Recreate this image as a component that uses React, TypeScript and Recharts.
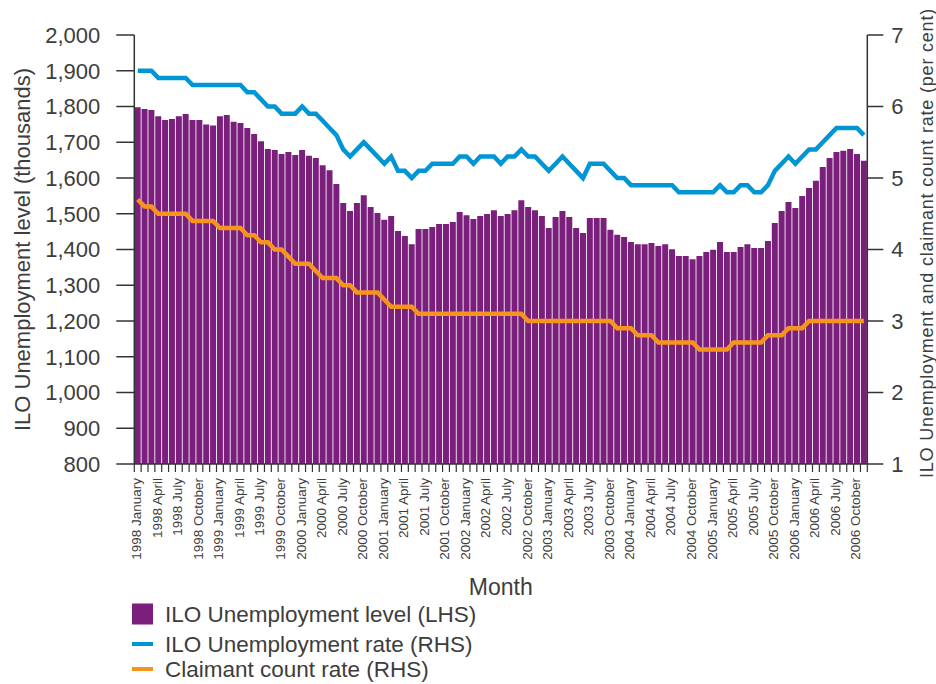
import React from "react";
import { ComposedChart, Bar, Line, XAxis, YAxis } from "recharts";

// ILO unemployment level (thousands), monthly 1998 January - 2006 November
const years = [1998, 1999, 2000, 2001, 2002, 2003, 2004, 2005, 2006];
const monthNames = [
  "January", "February", "March", "April", "May", "June",
  "July", "August", "September", "October", "November", "December",
];

const unemploymentLevel = [
  1798, 1793, 1790, 1773, 1762, 1765, 1773, 1779, 1762, 1762, 1750, 1747,
  1773, 1776, 1757, 1754, 1740, 1723, 1703, 1681, 1678, 1667, 1673, 1664,
  1678, 1662, 1656, 1636, 1622, 1583, 1530, 1508, 1530, 1552, 1519, 1502,
  1483, 1494, 1452, 1438, 1415, 1457, 1457, 1463, 1471, 1471, 1477, 1505,
  1496, 1485, 1494, 1499, 1510, 1494, 1499, 1510, 1538, 1519, 1510, 1494,
  1460, 1491, 1508, 1491, 1460, 1446, 1488, 1488, 1488, 1455, 1441, 1435,
  1421, 1415, 1415, 1418, 1410, 1415, 1401, 1382, 1382, 1373, 1382, 1393,
  1399, 1421, 1393, 1393, 1407, 1415, 1404, 1404, 1424, 1474, 1508, 1533,
  1516, 1550, 1572, 1592, 1631, 1656, 1673, 1676, 1681, 1667, 1648,
];

const iloRate = [
  6.5, 6.5, 6.5, 6.4, 6.4, 6.4, 6.4, 6.4, 6.3, 6.3, 6.3, 6.3,
  6.3, 6.3, 6.3, 6.3, 6.2, 6.2, 6.1, 6.0, 6.0, 5.9, 5.9, 5.9,
  6.0, 5.9, 5.9, 5.8, 5.7, 5.6, 5.4, 5.3, 5.4, 5.5, 5.4, 5.3,
  5.2, 5.3, 5.1, 5.1, 5.0, 5.1, 5.1, 5.2, 5.2, 5.2, 5.2, 5.3,
  5.3, 5.2, 5.3, 5.3, 5.3, 5.2, 5.3, 5.3, 5.4, 5.3, 5.3, 5.2,
  5.1, 5.2, 5.3, 5.2, 5.1, 5.0, 5.2, 5.2, 5.2, 5.1, 5.0, 5.0,
  4.9, 4.9, 4.9, 4.9, 4.9, 4.9, 4.9, 4.8, 4.8, 4.8, 4.8, 4.8,
  4.8, 4.9, 4.8, 4.8, 4.9, 4.9, 4.8, 4.8, 4.9, 5.1, 5.2, 5.3,
  5.2, 5.3, 5.4, 5.4, 5.5, 5.6, 5.7, 5.7, 5.7, 5.7, 5.6,
];

const claimantRate = [
  4.7, 4.6, 4.6, 4.5, 4.5, 4.5, 4.5, 4.5, 4.4, 4.4, 4.4, 4.4,
  4.3, 4.3, 4.3, 4.3, 4.2, 4.2, 4.1, 4.1, 4.0, 4.0, 3.9, 3.8,
  3.8, 3.8, 3.7, 3.6, 3.6, 3.6, 3.5, 3.5, 3.4, 3.4, 3.4, 3.4,
  3.3, 3.2, 3.2, 3.2, 3.2, 3.1, 3.1, 3.1, 3.1, 3.1, 3.1, 3.1,
  3.1, 3.1, 3.1, 3.1, 3.1, 3.1, 3.1, 3.1, 3.1, 3.0, 3.0, 3.0,
  3.0, 3.0, 3.0, 3.0, 3.0, 3.0, 3.0, 3.0, 3.0, 3.0, 2.9, 2.9,
  2.9, 2.8, 2.8, 2.8, 2.7, 2.7, 2.7, 2.7, 2.7, 2.7, 2.6, 2.6,
  2.6, 2.6, 2.6, 2.7, 2.7, 2.7, 2.7, 2.7, 2.8, 2.8, 2.8, 2.9,
  2.9, 2.9, 3.0, 3.0, 3.0, 3.0, 3.0, 3.0, 3.0, 3.0, 3.0,
];

const levelTicks = [800, 900, 1000, 1100, 1200, 1300, 1400, 1500, 1600, 1700, 1800, 1900, 2000];
const rateTicks = [1, 2, 3, 4, 5, 6, 7];

const months = unemploymentLevel.map(
  (_, i) => `${years[Math.floor(i / 12)]} ${monthNames[i % 12]}`
);

const data = months.map((month, i) => ({
  month,
  level: unemploymentLevel[i],
  ilo: iloRate[i],
  claimant: claimantRate[i],
}));

const FONT = '"Liberation Sans", Arial, Helvetica, sans-serif';
const TEXT = "#3d3d3d";
const AXIS = "#333333";
const PURPLE = "#7b1f7c";
const BLUE = "#0096d6";
const ORANGE = "#f7941d";

const W = 936;
const H = 684;
const PLOT_LEFT = 134.3;
const PLOT_RIGHT = 867.3;
const PLOT_TOP = 35;
const PLOT_BOTTOM = 464;
const BAND = (PLOT_RIGHT - PLOT_LEFT) / months.length;

// tick marks sit between months, a label every third month
const MonthTick = (props: any) => {
  const { x, y, index, payload } = props;
  const left = x - BAND / 2;
  const last = index === months.length - 1;
  return (
    <g>
      <line x1={left} y1={y} x2={left} y2={y + 8} stroke={AXIS} strokeWidth={1.2} />
      {last && (
        <line x1={x + BAND / 2} y1={y} x2={x + BAND / 2} y2={y + 8} stroke={AXIS} strokeWidth={1.2} />
      )}
      {index % 3 === 0 && (
        <text
          transform={`translate(${x + 3.4},${y + 14}) rotate(-90)`}
          textAnchor="end"
          fontSize={13.5}
          fill={TEXT}
          fontFamily={FONT}
        >
          {payload.value}
        </text>
      )}
    </g>
  );
};

const legendItems = [
  { label: "ILO Unemployment level (LHS)", color: PURPLE, kind: "box", y: 614 },
  { label: "ILO Unemployment rate (RHS)", color: BLUE, kind: "line", y: 644 },
  { label: "Claimant count rate (RHS)", color: ORANGE, kind: "line", y: 669 },
];

export default function App() {
  return (
    <div style={{ position: "absolute", left: 0, top: 0, width: W, height: H, fontFamily: FONT, background: "#fff" }}>
      <ComposedChart
        width={W}
        height={H}
        data={data}
        margin={{ top: PLOT_TOP, right: 0, bottom: 0, left: 0 }}
        barCategoryGap={0.4}
      >
        <XAxis
          dataKey="month"
          interval={0}
          height={H - PLOT_BOTTOM}
          tickSize={0}
          tickMargin={0}
          tickLine={false}
          axisLine={{ stroke: AXIS, strokeWidth: 1.5 }}
          tick={(p: any) => <MonthTick {...p} />}
          label={{
            content: () => (
              <text x={(PLOT_LEFT + PLOT_RIGHT) / 2} y={595} textAnchor="middle" fontSize={23} fill={TEXT} fontFamily={FONT}>
                Month
              </text>
            ),
          }}
        />
        <YAxis
          yAxisId="left"
          width={PLOT_LEFT}
          domain={[800, 2000]}
          ticks={levelTicks}
          interval={0}
          tickSize={18}
          tickMargin={16}
          tickFormatter={(v: number) => v.toLocaleString("en-US")}
          tick={{ fill: TEXT, fontSize: 22, fontFamily: FONT }}
          tickLine={{ stroke: AXIS, strokeWidth: 1.5 }}
          axisLine={{ stroke: AXIS, strokeWidth: 1.5 }}
          label={{
            content: () => (
              <text
                transform={`translate(22.5,${(PLOT_TOP + PLOT_BOTTOM) / 2}) rotate(-90)`}
                textAnchor="middle"
                dy="0.35em"
                fontSize={22}
                fill={TEXT}
                fontFamily={FONT}
              >
                ILO Unemployment level (thousands)
              </text>
            ),
          }}
        />
        <YAxis
          yAxisId="right"
          orientation="right"
          width={W - PLOT_RIGHT}
          domain={[1, 7]}
          ticks={rateTicks}
          interval={0}
          tickSize={16}
          tickMargin={8}
          tick={{ fill: TEXT, fontSize: 22, fontFamily: FONT }}
          tickLine={{ stroke: AXIS, strokeWidth: 1.5 }}
          axisLine={{ stroke: AXIS, strokeWidth: 1.5 }}
          label={{
            content: () => (
              <text
                transform={`translate(927,243) rotate(-90)`}
                textAnchor="middle"
                dy="0.35em"
                fontSize={18}
                letterSpacing={0.8}
                fill={TEXT}
                fontFamily={FONT}
              >
                ILO Unemployment and claimant count rate (per cent)
              </text>
            ),
          }}
        />
        <Bar yAxisId="left" dataKey="level" fill={PURPLE} isAnimationActive={false} />
        <Line
          yAxisId="right"
          type="linear"
          dataKey="ilo"
          stroke={BLUE}
          strokeWidth={4.5}
          dot={false}
          activeDot={false}
          isAnimationActive={false}
        />
        <Line
          yAxisId="right"
          type="linear"
          dataKey="claimant"
          stroke={ORANGE}
          strokeWidth={4.5}
          dot={false}
          activeDot={false}
          isAnimationActive={false}
        />
      </ComposedChart>
      <svg width={W} height={H} style={{ position: "absolute", left: 0, top: 0, pointerEvents: "none" }}>
        {legendItems.map((item) =>
          <g key={item.label}>
            {item.kind === "box" ? (
              <rect x={132} y={item.y - 10.5} width={21} height={21} fill={item.color} />
            ) : (
              <rect x={132} y={item.y - 2} width={21} height={4} fill={item.color} />
            )}
            <text x={165} y={item.y + 8} fontSize={22.5} fill={TEXT} fontFamily={FONT}>
              {item.label}
            </text>
          </g>
        )}
      </svg>
    </div>
  );
}
